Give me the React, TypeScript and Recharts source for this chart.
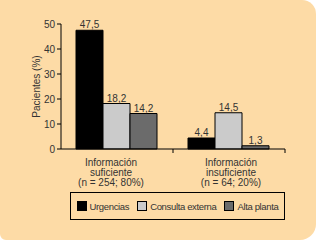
import { BarChart, Bar, XAxis, YAxis, LabelList, Label } from "recharts";

const groups = ["Información suficiente (n = 254; 80%)", "Información insuficiente (n = 64; 20%)"];
const groupLines = [
  ["Información", "suficiente", "(n = 254; 80%)"],
  ["Información", "insuficiente", "(n = 64; 20%)"]
];
const urgencias = [47.5, 4.4];
const consultaExterna = [18.2, 14.5];
const altaPlanta = [14.2, 1.3];
const yTicks = [0, 10, 20, 30, 40, 50];

const seriesNames = ["Urgencias", "Consulta externa", "Alta planta"];
const seriesColors = ["#000000", "#cbcbcb", "#6b6b6b"];

const data = groups.map((g, i) => ({
  group: g,
  urgencias: urgencias[i],
  consulta: consultaExterna[i],
  alta: altaPlanta[i]
}));

const font = "'Liberation Sans', Arial, sans-serif";
const textColor = "#333";
const labelShift = [-6, 2];

const fmt = (v: any) => String(v).replace(".", ",");

function GroupTick(props: any) {
  const { x, y, payload, index } = props;
  const half = payload.offset || 56;
  const lines = groupLines[index] || [];
  const cx = x + (labelShift[index] || 0);
  return (
    <g>
      <line x1={x + half} x2={x + half} y1={y - 8} y2={y - 4} stroke="#000" />
      <text x={cx} y={y + 9} textAnchor="middle" fontSize={10} fill={textColor} fontFamily={font}>
        {lines.map((l: string, i: number) => (
          <tspan key={i} x={cx} dy={i === 0 ? 0 : 10}>
            {l}
          </tspan>
        ))}
      </text>
    </g>
  );
}

export default function App() {
  return (
    <div
      style={{
        position: "absolute",
        left: 0,
        top: 0,
        width: 316,
        height: 240,
        background: "#fddba6",
        borderRadius: "0 14px 16px 6px",
        fontFamily: font
      }}
    >
      <BarChart
        width={316}
        height={240}
        data={data}
        margin={{ top: 24, right: 31, left: 0, bottom: 46 }}
        barCategoryGap={15}
        barGap={0}
      >
        <XAxis
          dataKey="group"
          height={45}
          axisLine={{ stroke: "#000" }}
          tickLine={false}
          tick={<GroupTick />}
          interval={0}
        />
        <YAxis
          width={61}
          domain={[0, 50]}
          ticks={yTicks}
          axisLine={{ stroke: "#000" }}
          tickLine={{ stroke: "#000" }}
          tickSize={4}
          tick={{ fill: textColor, fontSize: 10, fontFamily: font }}
        >
          <Label
            value="Pacientes (%)"
            angle={-90}
            position="insideLeft"
            offset={36}
            style={{ fill: textColor, fontSize: 10, fontFamily: font, textAnchor: "middle" }}
          />
        </YAxis>
        <Bar dataKey="urgencias" fill={seriesColors[0]} stroke="#000" isAnimationActive={false}>
          <LabelList dataKey="urgencias" position="top" offset={2} formatter={fmt} style={{ fill: textColor, fontSize: 10, fontFamily: font }} />
        </Bar>
        <Bar dataKey="consulta" fill={seriesColors[1]} stroke="#000" isAnimationActive={false}>
          <LabelList dataKey="consulta" position="top" offset={2} formatter={fmt} style={{ fill: textColor, fontSize: 10, fontFamily: font }} />
        </Bar>
        <Bar dataKey="alta" fill={seriesColors[2]} stroke="#000" isAnimationActive={false}>
          <LabelList dataKey="alta" position="top" offset={2} formatter={fmt} style={{ fill: textColor, fontSize: 10, fontFamily: font }} />
        </Bar>
      </BarChart>
      <div
        style={{
          position: "absolute",
          left: 70,
          top: 192,
          width: 215,
          height: 28,
          boxSizing: "border-box",
          border: "1px solid #000",
          display: "flex",
          alignItems: "center",
          justifyContent: "center",
          gap: 8,
          fontSize: 9.5,
          letterSpacing: -0.35,
          color: textColor,
          whiteSpace: "nowrap"
        }}
      >
        {seriesNames.map((n, i) => (
          <span key={n} style={{ display: "flex", alignItems: "center" }}>
            <span
              style={{
                display: "inline-block",
                width: 8,
                height: 8,
                background: seriesColors[i],
                border: "1px solid #000",
                marginRight: 3
              }}
            />
            {n}
          </span>
        ))}
      </div>
    </div>
  );
}
